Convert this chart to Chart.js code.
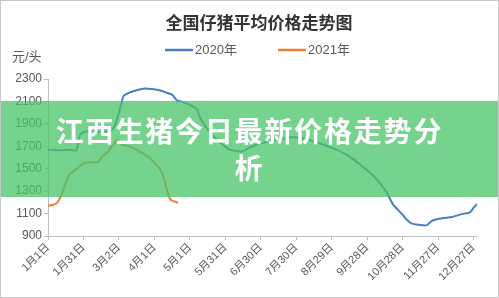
<!DOCTYPE html>
<html>
<head>
<meta charset="utf-8">
<script src="https://cdn.jsdelivr.net/npm/chart.js@4"></script>
<style>
  html, body { margin: 0; padding: 0; background: #fff; }
  #wrap { position: relative; width: 499px; height: 298px; overflow: hidden; }
  #frame { position: absolute; left: 0; top: 0; width: 499px; height: 298px; box-sizing: border-box; border: 1px solid #c8c8c8; pointer-events: none; }
  #banner { position: absolute; left: 0; top: 101px; width: 499px; height: 96px; background: rgba(72, 196, 104, 0.75); }
  #banner div { width: 396px; margin: 11px auto 0; text-align: center; color: #fff; font: bold 28px "Noto Sans CJK SC", sans-serif; line-height: 37px; letter-spacing: 1.8px; }
</style>
</head>
<body>
<div id="wrap">
  <canvas id="chart" width="499" height="298"></canvas>
  <div id="banner"><div>江西生猪今日最新价格走势分析</div></div>
  <div id="frame"></div>
</div>
<script>
// x axis labels, one every 30 days
const xLabels = ['1月1日', '1月31日', '3月2日', '4月1日', '5月1日', '5月31日', '6月30日',
  '7月30日', '8月29日', '9月28日', '10月28日', '11月27日', '12月27日'];
const yTicks = [900, 1100, 1300, 1500, 1700, 1900, 2100, 2300];

// 2020 (day of year, price)
const days2020 = [0, 10, 19, 24, 27, 31, 40, 52, 56, 59, 62, 64, 69, 75, 82, 88, 95, 100, 105, 109,
  114, 120, 126, 128, 133, 139, 145, 152, 158, 164, 171, 178, 186, 196, 206, 217, 226, 234, 244,
  255, 266, 274, 281, 287, 292, 296, 300, 304, 308, 314, 320, 325, 329, 335, 342, 350, 357, 360, 363];
const prices2020 = [1670, 1665, 1668, 1665, 1800, 1830, 1830, 1835, 1870, 1960, 2080, 2150, 2180, 2200,
  2215, 2210, 2198, 2180, 2160, 2110, 2095, 2070, 2030, 1970, 1880, 1800, 1740, 1680, 1660, 1655,
  1690, 1720, 1740, 1760, 1780, 1770, 1740, 1710, 1670, 1610, 1520, 1450, 1370, 1280, 1180, 1135,
  1090, 1040, 1010, 1000, 995, 1035, 1050, 1060, 1070, 1095, 1110, 1150, 1185];

// 2021
const days2021 = [0, 5, 8, 10, 13, 16, 19, 21, 25, 30, 35, 42, 46, 48, 52, 56, 59, 63, 69, 75, 80,
  86, 92, 96, 99, 101, 103, 105, 108, 110];
const prices2021 = [1170, 1180, 1200, 1235, 1310, 1400, 1460, 1475, 1505, 1548, 1557, 1557, 1608,
  1625, 1668, 1720, 1758, 1713, 1698, 1668, 1640, 1595, 1530, 1474, 1384, 1295, 1235, 1215, 1205, 1195];

const seriesNames = ['2020年', '2021年'];
const seriesColors = ['#4a7ebf', '#ed7d31'];
const chartTitle = '全国仔猪平均价格走势图';

const FONT = '"Liberation Sans", "Noto Sans CJK SC", sans-serif';

function toPoints(days, prices) {
  return days.map((d, i) => ({ x: d, y: prices[i] }));
}

// title, legend and unit label drawn above the plot
const headerPlugin = {
  id: 'header',
  afterDraw(chart) {
    const ctx = chart.ctx;
    ctx.save();
    ctx.textBaseline = 'middle';
    ctx.textAlign = 'center';
    ctx.fillStyle = '#333333';
    ctx.font = 'bold 17px "Noto Sans CJK SC", sans-serif';
    ctx.fillText(chartTitle, 259, 23);

    ctx.font = '13px ' + FONT;
    ctx.fillStyle = '#595959';
    ctx.textAlign = 'left';
    const legendX = [165, 278];
    chart.data.datasets.forEach((ds, i) => {
      ctx.strokeStyle = ds.borderColor;
      ctx.lineWidth = 2.5;
      ctx.beginPath();
      ctx.moveTo(legendX[i], 50);
      ctx.lineTo(legendX[i] + 28, 50);
      ctx.stroke();
      ctx.fillText(ds.label, legendX[i] + 30, 50);
    });
    ctx.fillText('元/头', 12, 57);
    ctx.restore();
  }
};

new Chart(document.getElementById('chart'), {
  type: 'line',
  data: {
    datasets: [
      {
        label: seriesNames[0],
        data: toPoints(days2020, prices2020),
        borderColor: seriesColors[0],
        backgroundColor: seriesColors[0],
        borderWidth: 2,
        pointRadius: 0,
        tension: 0.25
      },
      {
        label: seriesNames[1],
        data: toPoints(days2021, prices2021),
        borderColor: seriesColors[1],
        backgroundColor: seriesColors[1],
        borderWidth: 2,
        pointRadius: 0,
        tension: 0.25
      }
    ]
  },
  options: {
    responsive: false,
    animation: false,
    layout: {
      padding: { left: 13, right: 22, top: 79, bottom: 0 }
    },
    plugins: {
      legend: { display: false },
      tooltip: { enabled: false },
      title: { display: false }
    },
    scales: {
      x: {
        type: 'linear',
        min: 0,
        max: 363,
        afterBuildTicks(scale) {
          scale.ticks = xLabels.map((l, i) => ({ value: i * 30 }));
        },
        afterFit(scale) { scale.height = 62; },
        grid: { display: true, drawOnChartArea: false, tickLength: 4, color: '#bfbfbf' },
        border: { color: '#bfbfbf' },
        ticks: {
          autoSkip: false,
          minRotation: 45,
          maxRotation: 45,
          padding: 1,
          color: '#595959',
          font: { family: FONT, size: 11 },
          callback: (v) => xLabels[Math.round(v / 30)]
        }
      },
      y: {
        min: yTicks[0],
        max: yTicks[yTicks.length - 1],
        afterBuildTicks(scale) {
          scale.ticks = yTicks.map(v => ({ value: v }));
        },
        afterFit(scale) { scale.width = 35; },
        grid: { display: true, drawOnChartArea: false, tickLength: 4, color: '#bfbfbf' },
        border: { color: '#bfbfbf' },
        ticks: {
          padding: 2,
          color: '#595959',
          font: { family: FONT, size: 12 },
          callback: (v) => String(v)
        }
      }
    }
  },
  plugins: [headerPlugin]
});
</script>
</body>
</html>
